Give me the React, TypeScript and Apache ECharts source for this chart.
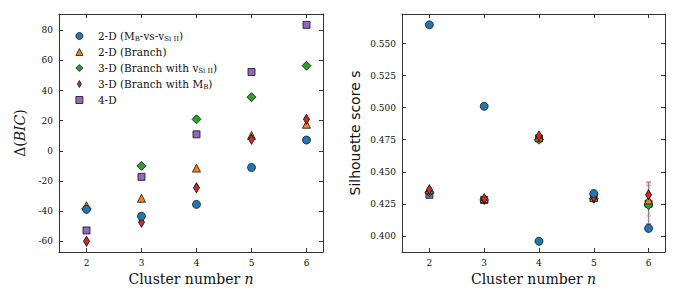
import React, { useEffect, useRef } from 'react';
import * as echarts from 'echarts';

const clusters = [2, 3, 4, 5, 6];
const seriesNames = ['2-D (MB-vs-vSi II)', '2-D (Branch)', '3-D (Branch with vSi II)', '3-D (Branch with MB)', '4-D'];
const legendLabels = [
  '2-D (M{sub|B}-vs-v{sub|Si II})',
  '2-D (Branch)',
  '3-D (Branch with v{sub|Si II})',
  '3-D (Branch with M{sub|B})',
  '4-D',
];
const colors = ['#1f77b4', '#ff7f0e', '#2ca02c', '#d62728', '#9467bd'];
const symbols = ['circle', 'triangle', 'diamond', 'path://M0,-10L5.5,0L0,10L-5.5,0Z', 'rect'];
const symbolSizes: any[] = [8, 8, 9, [6, 10], 7];
const zOrder = [6, 4, 3, 5, 2];

// Left panel: Delta(BIC)
const bicCircle = [-38.9, -43.5, -35.6, -11.1, 7.1];
const bicTriangle = [-36.5, -31.5, -11.5, 10.2, 17.6];
const bicDiamond = [-38.5, -10.0, 20.9, 35.6, 56.5];
const bicThin = [-60.0, -47.5, -24.6, 7.6, 20.9];
const bicSquare = [-52.9, -17.3, 10.9, 52.3, 83.6];
const bicTicks = [-60, -40, -20, 0, 20, 40, 60, 80];

// Right panel: silhouette score
const silCircle = [0.5647, 0.5011, 0.3958, 0.433, 0.4058];
const silTriangle = [0.436, 0.429, 0.477, 0.43, 0.428];
const silDiamond = [0.434, 0.428, 0.475, 0.429, 0.424];
const silThin = [0.436, 0.429, 0.478, 0.43, 0.432];
const silSquare = [0.432, 0.428, 0.476, 0.43, 0.425];
const silTicks = [0.4, 0.425, 0.45, 0.475, 0.5, 0.525, 0.55];

// Error bars at n = 6 (orange, green, purple)
const errCluster = 6;
const errLow = [0.4155, 0.4095, 0.409];
const errHigh = [0.4415, 0.4395, 0.442];
const errColors = ['rgba(255,127,14,0.5)', 'rgba(44,160,44,0.5)', 'rgba(148,103,189,0.75)'];

const bicSets = [bicCircle, bicTriangle, bicDiamond, bicThin, bicSquare];
const silSets = [silCircle, silTriangle, silDiamond, silThin, silSquare];

const serif = 'DejaVu Serif';

export default function App() {
  const ref = useRef<HTMLDivElement>(null);
  useEffect(() => {
    document.body.style.margin = '0';
    if (!ref.current) return;
    const chart = echarts.init(ref.current, null, { renderer: 'svg' });
    const axisLine = { show: true, onZero: false, lineStyle: { color: '#333', width: 1 } };
    const tickStyle = (vals: number[]) => ({ show: true, inside: true, length: 4, customValues: vals, lineStyle: { color: '#333', width: 1 } });
    const labelStyle = { fontFamily: serif, fontSize: 9, color: '#111', margin: 6 };
    const nameStyle = (family: string) => ({
      fontFamily: family,
      fontSize: 14,
      color: '#111',
      rich: { i: { fontFamily: family, fontSize: 14, fontStyle: 'italic', color: '#111' } },
    });

    const xAx = (gridIndex: number, position: string, withLabels: boolean) => ({
      type: 'value',
      gridIndex,
      position,
      min: 1.5,
      max: 6.3,
      axisLine,
      axisTick: tickStyle(clusters),
      axisLabel: withLabels ? { ...labelStyle, customValues: clusters } : { show: false },
      splitLine: { show: false },
      name: withLabels ? 'Cluster number {i|n}' : '',
      nameLocation: 'middle',
      nameGap: 19,
      nameTextStyle: nameStyle(serif),
    });
    const yAx = (gridIndex: number, position: string, min: number, max: number, ticks: number[], withLabels: boolean, name: string, nameGap: number, family: string, fmt?: (v: number) => string) => ({
      type: 'value',
      gridIndex,
      position,
      min,
      max,
      axisLine,
      axisTick: tickStyle(ticks),
      axisLabel: withLabels ? { ...labelStyle, customValues: ticks, formatter: fmt } : { show: false },
      splitLine: { show: false },
      name: withLabels ? name : '',
      nameLocation: 'middle',
      nameGap,
      nameRotate: 90,
      nameTextStyle: nameStyle(family),
    });

    const series: any[] = [];
    for (let k = 0; k < 5; k++) {
      const common = {
        type: 'scatter',
        name: seriesNames[k],
        symbol: symbols[k],
        symbolSize: symbolSizes[k],
        z: zOrder[k],
        itemStyle: { color: colors[k], borderColor: '#111', borderWidth: 0.8, opacity: 1 },
        emphasis: { disabled: true },
      };
      series.push({ ...common, xAxisIndex: 0, yAxisIndex: 0, data: clusters.map((c, i) => [c, bicSets[k][i]]) });
      series.push({ ...common, xAxisIndex: 2, yAxisIndex: 2, data: clusters.map((c, i) => [c, silSets[k][i]]) });
    }
    errLow.forEach((lo, j) => {
      series.push({
        type: 'custom',
        xAxisIndex: 2,
        yAxisIndex: 2,
        z: 1,
        data: [[errCluster, lo, errHigh[j]]],
        renderItem: (params: any, api: any) => {
          const x = api.value(0);
          const p1 = api.coord([x, api.value(1)]);
          const p2 = api.coord([x, api.value(2)]);
          const cap = 2.5;
          const st = { stroke: errColors[j], lineWidth: 1.3 };
          return {
            type: 'group',
            children: [
              { type: 'line', shape: { x1: p1[0], y1: p1[1], x2: p2[0], y2: p2[1] }, style: st },
              { type: 'line', shape: { x1: p1[0] - cap, y1: p1[1], x2: p1[0] + cap, y2: p1[1] }, style: st },
              { type: 'line', shape: { x1: p2[0] - cap, y1: p2[1], x2: p2[0] + cap, y2: p2[1] }, style: st },
            ],
          };
        },
      });
    });

    chart.setOption({
      animation: false,
      backgroundColor: '#fff',
      grid: [
        { left: 59, right: 357, top: 14, bottom: 48 },
        { left: 402, right: 15, top: 14, bottom: 48 },
      ],
      xAxis: [xAx(0, 'bottom', true), xAx(0, 'top', false), xAx(1, 'bottom', true), xAx(1, 'top', false)],
      yAxis: [
        yAx(0, 'left', -67.2, 90.8, bicTicks, true, 'Δ({i|BIC})', 32, serif),
        yAx(0, 'right', -67.2, 90.8, bicTicks, false, '', 0, serif),
        yAx(1, 'left', 0.3874, 0.5731, silTicks, true, 'Silhouette score s', 40, 'DejaVu Sans', (v: number) => v.toFixed(3)),
        yAx(1, 'right', 0.3874, 0.5731, silTicks, false, '', 0, serif),
      ],
      legend: {
        orient: 'vertical',
        left: 75.5,
        top: 30,
        padding: 0,
        itemGap: 4,
        itemWidth: 7,
        itemHeight: 7,
        itemStyle: { borderWidth: 0.8, borderColor: '#111' },
        data: seriesNames,
        formatter: (name: string) => legendLabels[seriesNames.indexOf(name)],
        textStyle: {
          fontFamily: serif,
          fontSize: 10.5,
          color: '#111',
          lineHeight: 12,
          padding: [0, 0, 0, 10],
          rich: {
            sub: { fontFamily: serif, fontSize: 7, color: '#111', verticalAlign: 'bottom', lineHeight: 12, padding: [4, 0, 0, 0] },
          },
        },
      },
      series,
    });
    return () => chart.dispose();
  }, []);
  return <div ref={ref} style={{ width: 680, height: 300 }} />;
}
